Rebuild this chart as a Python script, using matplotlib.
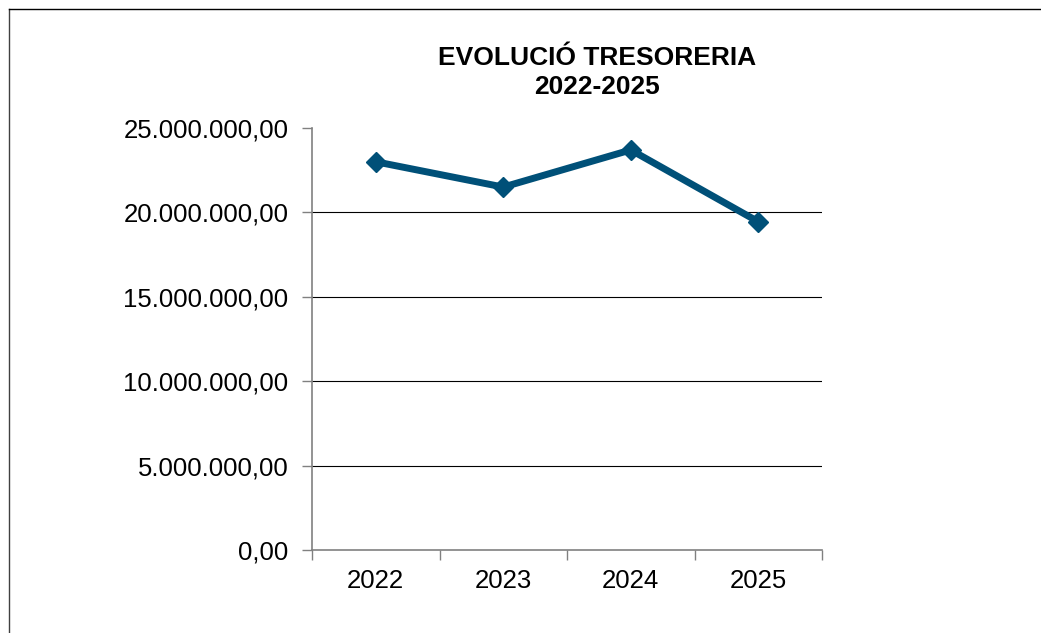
import numpy as np
import matplotlib.pyplot as plt
from matplotlib.ticker import FuncFormatter, FixedLocator

plt.rcParams["font.family"] = ["Liberation Sans", "DejaVu Sans"]

# data
years = ["2022", "2023", "2024", "2025"]
tresoreria = [23000000, 21500000, 23700000, 19450000]
y_ticks = [0, 5000000, 10000000, 15000000, 20000000, 25000000]


def euro_fmt(v, pos):
    s = "{:,.2f}".format(v)
    return s.replace(",", "X").replace(".", ",").replace("X", ".")


fig = plt.figure(figsize=(10.41, 6.33), dpi=100)

# outer frame of the chart (left and top visible)
fig.add_artist(plt.Line2D([9 / 1041, 9 / 1041], [0, 1 - 9 / 633], color="#404040", lw=1.0))
fig.add_artist(plt.Line2D([9 / 1041, 1], [1 - 9 / 633, 1 - 9 / 633], color="#000000", lw=1.0))

ax = fig.add_axes([312 / 1041, 1 - 550 / 633, 510 / 1041, 422 / 633])

x = np.arange(len(years))
ax.plot(x, tresoreria, color="#005078", lw=5, marker="D", markersize=10,
        solid_joinstyle="miter", zorder=3)

ax.set_xlim(-0.5, len(years) - 0.5)
ax.set_ylim(0, 25000000)
ax.yaxis.set_major_locator(FixedLocator(y_ticks))
ax.yaxis.set_major_formatter(FuncFormatter(euro_fmt))

# gridlines (not at the top)
for t in y_ticks[1:-1]:
    ax.axhline(t, color="black", lw=0.8, zorder=1)

ax.set_xticks(x)
ax.set_xticklabels(years)
ax.set_xticks(np.arange(-0.5, len(years)), minor=True)
ax.tick_params(axis="x", which="major", length=0, pad=14, labelsize=18.5)
ax.tick_params(axis="x", which="minor", length=7, color="#808080", width=1)
ax.tick_params(axis="y", length=7, color="#808080", width=1, labelsize=18.5, pad=10)

for side in ["top", "right"]:
    ax.spines[side].set_visible(False)
for side in ["left", "bottom"]:
    ax.spines[side].set_color("#808080")
    ax.spines[side].set_linewidth(1.2)

fig.text(597 / 1041, 1 - 72.5 / 633, "EVOLUCIÓ TRESORERIA\n2022-2025", ha="center", va="center",
         fontsize=19, fontweight="bold", linespacing=1.3)

fig.savefig("out.png", dpi=100)
